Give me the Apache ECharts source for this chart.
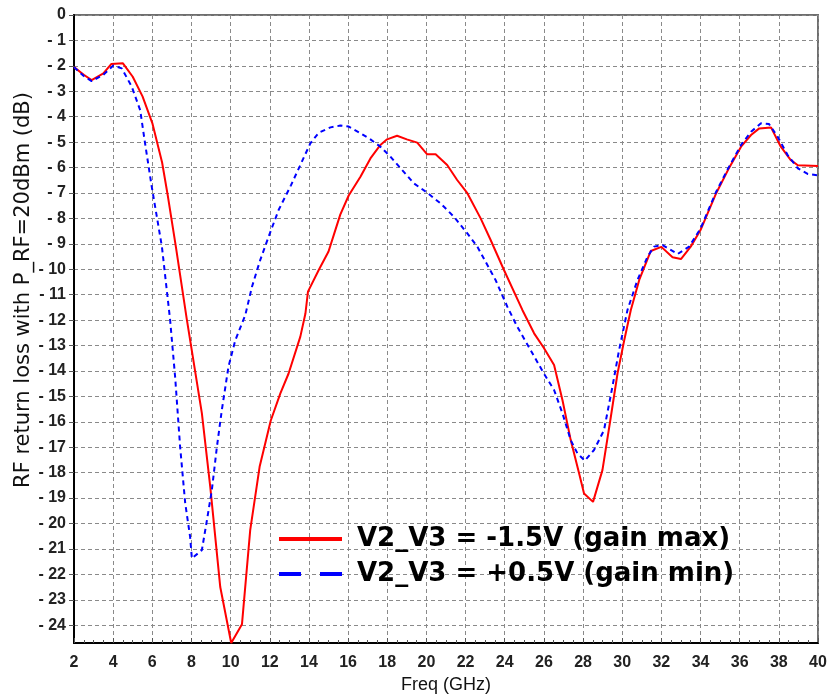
<!DOCTYPE html>
<html>
<head>
<meta charset="utf-8">
<title>RF return loss vs frequency</title>
<script src="https://cdn.jsdelivr.net/npm/echarts@6/dist/echarts.min.js"></script>
<style>
  html, body { margin: 0; padding: 0; background: #ffffff; }
  #chart { width: 829px; height: 694px; }
</style>
</head>
<body>
<div id="chart"></div>
<script>
// Return loss (dB) versus frequency (GHz) for two control-voltage settings.
const freqGainMax = [2, 2.5, 2.9, 3.5, 3.9, 4.5, 5.0, 5.5, 6.0, 6.5, 6.8, 7.2, 7.76, 8.53, 8.96, 9.47, 10.03, 10.58, 11.0, 11.48, 12.05, 12.54, 12.96, 13.56, 13.82, 13.95, 14.5, 15.0, 15.27, 15.6, 16.03, 16.63, 17.14, 17.65, 17.99, 18.5, 19.0, 19.53, 20.04, 20.47, 21.06, 21.57, 22.09, 22.77, 23.28, 23.96, 24.9, 25.5, 26.0, 26.52, 26.95, 27.37, 27.8, 28.05, 28.51, 28.99, 29.4, 29.76, 30.1, 30.44, 30.87, 31.46, 32.0, 32.57, 33.0, 33.5, 34.0, 34.8, 35.4, 36.07, 36.58, 37.0, 37.6, 38.1, 38.6, 38.97, 40];
const lossGainMax = [-2.05, -2.35, -2.56, -2.3, -1.93, -1.9, -2.43, -3.2, -4.25, -5.8, -7.15, -9.1, -11.96, -15.66, -18.56, -22.5, -24.7, -23.96, -20.26, -17.77, -15.95, -14.88, -14.1, -12.65, -11.74, -10.88, -10.03, -9.3, -8.65, -7.85, -7.1, -6.36, -5.64, -5.11, -4.89, -4.75, -4.89, -5.02, -5.48, -5.48, -5.9, -6.49, -7.01, -8.0, -8.85, -10.03, -11.6, -12.52, -13.1, -13.77, -15.15, -16.72, -18.03, -18.82, -19.15, -17.9, -15.9, -14.1, -12.8, -11.6, -10.42, -9.28, -9.12, -9.53, -9.6, -9.11, -8.46, -7.01, -6.1, -5.18, -4.72, -4.46, -4.42, -5.18, -5.7, -5.91, -5.94];

const freqGainMin = [2, 2.5, 2.9, 3.5, 4.01, 4.44, 4.95, 5.38, 5.63, 5.97, 6.23, 6.49, 6.91, 7.17, 7.42, 7.68, 7.93, 8.02, 8.53, 8.79, 9.04, 9.3, 9.55, 9.89, 10.24, 10.75, 11.09, 11.51, 11.94, 12.45, 13.08, 13.56, 14.07, 14.5, 15.1, 15.6, 16.03, 16.63, 17.14, 17.65, 18.16, 18.68, 19.36, 20.04, 20.72, 21.4, 22.09, 22.6, 23.53, 24.13, 24.64, 25.32, 26.0, 26.52, 26.95, 27.37, 27.71, 28.09, 28.56, 29.07, 29.5, 29.84, 30.27, 30.78, 31.29, 31.63, 32.06, 32.83, 33.42, 34.0, 34.8, 35.4, 36.07, 36.58, 37.09, 37.5, 37.94, 38.45, 38.97, 39.47, 40];
const lossGainMin = [-2.05, -2.4, -2.6, -2.35, -1.99, -2.1, -2.82, -3.74, -5.05, -6.75, -7.93, -9.11, -12.0, -14.28, -16.98, -19.2, -20.52, -21.37, -21.05, -19.87, -18.69, -16.98, -15.54, -13.83, -12.79, -11.8, -10.69, -9.64, -8.72, -7.67, -6.7, -5.9, -5.05, -4.63, -4.42, -4.35, -4.39, -4.65, -4.89, -5.18, -5.57, -6.03, -6.62, -6.99, -7.41, -7.93, -8.59, -9.11, -10.42, -11.47, -12.26, -13.18, -14.1, -14.75, -15.67, -16.72, -17.24, -17.53, -17.11, -16.33, -14.62, -13.18, -11.6, -10.42, -9.51, -9.11, -9.05, -9.4, -9.11, -8.4, -6.95, -6.05, -5.11, -4.59, -4.26, -4.29, -4.79, -5.51, -6.03, -6.25, -6.31];

const seriesNames = ['V2_V3 = -1.5V (gain max)', 'V2_V3 = +0.5V (gain min)'];
const yTickValues = [0, -1, -2, -3, -4, -5, -6, -7, -8, -9, -10, -11, -12, -13, -14, -15, -16, -17, -18, -19, -20, -21, -22, -23, -24];

const pairs = (xs, ys) => xs.map((x, i) => [x, ys[i]]);

const chart = echarts.init(document.getElementById('chart'), null, { renderer: 'canvas' });

const gridDash = { color: '#8a8a8a', width: 1, type: [4, 3] };
const tickFont = { fontFamily: 'Liberation Sans', fontSize: 16, fontWeight: 'bold', color: '#222' };

chart.setOption({
  animation: false,
  backgroundColor: '#ffffff',
  grid: {
    left: 74, right: 11, top: 15, bottom: 51,
    containLabel: false,
    outerBoundsMode: 'none',
    show: true, borderColor: '#6e6e6e', borderWidth: 2, backgroundColor: 'transparent'
  },
  xAxis: {
    type: 'value',
    min: 2, max: 40, interval: 2,
    name: 'Freq (GHz)',
    nameLocation: 'middle',
    nameGap: 31,
    nameTextStyle: { fontFamily: 'Liberation Sans', fontSize: 18, color: '#111' },
    axisLine: { show: true, onZero: false, lineStyle: { color: '#000', width: 2 } },
    axisTick: { show: true, inside: true, length: 5, lineStyle: { color: '#555', width: 1 } },
    minorTick: { show: true, splitNumber: 4, length: 3, lineStyle: { color: '#555', width: 1 } },
    axisLabel: Object.assign({ margin: 12 }, tickFont),
    splitLine: { show: true, lineStyle: gridDash }
  },
  yAxis: {
    type: 'value',
    min: -24.7, max: 0,
    name: 'RF return loss with P_RF=20dBm (dB)',
    nameLocation: 'middle',
    nameGap: 40,
    nameRotate: 90,
    nameMoveOverlap: false,
    nameTextStyle: { fontFamily: 'DejaVu Sans', fontSize: 21, color: '#111', padding: [0, 0, 0, 78] },
    axisLine: { show: true, onZero: false, lineStyle: { color: '#000', width: 2 } },
    axisTick: { show: true, inside: false, length: 5, customValues: yTickValues, lineStyle: { color: '#555', width: 1 } },
    axisLabel: Object.assign({
      margin: 8,
      customValues: yTickValues,
      formatter: v => (v < 0 ? '- ' + Math.abs(v) : String(v))
    }, tickFont),
    splitLine: { show: true, lineStyle: gridDash }
  },
  legend: {
    orient: 'vertical',
    left: 277,
    top: 524,
    padding: 0,
    itemWidth: 63,
    itemHeight: 14,
    itemGap: 5,
    backgroundColor: 'transparent',
    textStyle: {
      fontFamily: 'DejaVu Sans', fontWeight: 'bold', fontSize: 26,
      color: '#000', lineHeight: 30, padding: [0, 0, 0, 10]
    },
    data: [
      { name: seriesNames[0], itemStyle: { opacity: 0 }, lineStyle: { width: 4, type: 'solid' } },
      { name: seriesNames[1], itemStyle: { opacity: 0 }, lineStyle: { width: 4, type: [22, 19] } }
    ]
  },
  series: [
    {
      name: seriesNames[0],
      type: 'line',
      data: pairs(freqGainMax, lossGainMax),
      showSymbol: false,
      symbol: 'none',
      smooth: false,
      lineStyle: { color: '#ff0000', width: 2 },
      itemStyle: { color: '#ff0000' },
      z: 3
    },
    {
      name: seriesNames[1],
      type: 'line',
      data: pairs(freqGainMin, lossGainMin),
      showSymbol: false,
      symbol: 'none',
      smooth: false,
      lineStyle: { color: '#0000ff', width: 2, type: [5, 4] },
      itemStyle: { color: '#0000ff' },
      z: 4
    }
  ]
});
</script>
</body>
</html>
